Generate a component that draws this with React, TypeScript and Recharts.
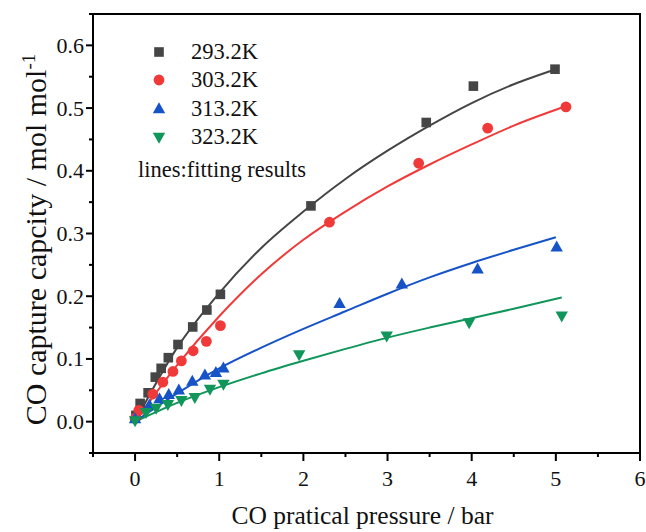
import * as React from 'react';
import { ComposedChart, Scatter, Line, XAxis, YAxis, ReferenceArea, Legend } from 'recharts';

const FONT = '"Liberation Serif", "Times New Roman", serif';

const seriesNames = ['293.2K', '303.2K', '313.2K', '323.2K'];
const seriesColors = ['#454545', '#f03a3a', '#1553c7', '#10955a'];

// measured points
const pts293 = [
  { x: 0.01, y: 0.01 }, { x: 0.06, y: 0.029 }, { x: 0.155, y: 0.046 }, { x: 0.24, y: 0.071 },
  { x: 0.31, y: 0.085 }, { x: 0.395, y: 0.102 }, { x: 0.51, y: 0.123 }, { x: 0.685, y: 0.151 },
  { x: 0.853, y: 0.178 }, { x: 1.014, y: 0.203 }, { x: 2.09, y: 0.344 }, { x: 3.46, y: 0.477 },
  { x: 4.02, y: 0.535 }, { x: 4.99, y: 0.562 },
];
const pts303 = [
  { x: 0.0, y: 0.005 }, { x: 0.044, y: 0.018 }, { x: 0.21, y: 0.044 }, { x: 0.33, y: 0.063 },
  { x: 0.45, y: 0.08 }, { x: 0.55, y: 0.097 }, { x: 0.69, y: 0.113 }, { x: 0.847, y: 0.128 },
  { x: 1.014, y: 0.153 }, { x: 2.31, y: 0.318 }, { x: 3.37, y: 0.412 }, { x: 4.19, y: 0.468 },
  { x: 5.12, y: 0.502 },
];
const pts313 = [
  { x: 0.0, y: 0.004 }, { x: 0.17, y: 0.026 }, { x: 0.29, y: 0.036 }, { x: 0.4, y: 0.043 },
  { x: 0.52, y: 0.05 }, { x: 0.68, y: 0.064 }, { x: 0.83, y: 0.074 }, { x: 0.96, y: 0.078 },
  { x: 1.05, y: 0.085 }, { x: 2.43, y: 0.188 }, { x: 3.17, y: 0.219 }, { x: 4.07, y: 0.243 },
  { x: 5.01, y: 0.278 },
];
const pts323 = [
  { x: 0.0, y: 0.002 }, { x: 0.13, y: 0.015 }, { x: 0.25, y: 0.022 }, { x: 0.39, y: 0.028 },
  { x: 0.55, y: 0.034 }, { x: 0.71, y: 0.039 }, { x: 0.89, y: 0.052 }, { x: 1.05, y: 0.06 },
  { x: 1.95, y: 0.107 }, { x: 2.99, y: 0.137 }, { x: 3.97, y: 0.158 }, { x: 5.07, y: 0.169 },
];

// fitting curves
const fit293 = [
  { x: 0, y: 0 }, { x: 0.5, y: 0.118 }, { x: 1, y: 0.205 }, { x: 1.5, y: 0.277 }, { x: 2, y: 0.335 },
  { x: 2.5, y: 0.387 }, { x: 3, y: 0.432 }, { x: 3.5, y: 0.472 }, { x: 4, y: 0.508 }, { x: 4.5, y: 0.538 },
  { x: 5, y: 0.562 },
];
const fit303 = [
  { x: 0, y: 0 }, { x: 0.5, y: 0.09 }, { x: 1, y: 0.168 }, { x: 1.5, y: 0.235 }, { x: 2, y: 0.29 },
  { x: 2.5, y: 0.335 }, { x: 3, y: 0.375 }, { x: 3.5, y: 0.41 }, { x: 4, y: 0.442 }, { x: 4.5, y: 0.472 },
  { x: 5.1, y: 0.502 },
];
const fit313 = [
  { x: 0, y: 0 }, { x: 0.5, y: 0.045 }, { x: 1, y: 0.085 }, { x: 1.5, y: 0.118 }, { x: 2, y: 0.148 },
  { x: 2.5, y: 0.176 }, { x: 3, y: 0.204 }, { x: 3.5, y: 0.23 }, { x: 4, y: 0.253 }, { x: 4.5, y: 0.274 },
  { x: 5, y: 0.294 },
];
const fit323 = [
  { x: 0, y: 0 }, { x: 0.5, y: 0.03 }, { x: 1, y: 0.055 }, { x: 1.5, y: 0.077 }, { x: 2, y: 0.097 },
  { x: 2.5, y: 0.116 }, { x: 3, y: 0.134 }, { x: 3.5, y: 0.15 }, { x: 4, y: 0.165 }, { x: 4.5, y: 0.18 },
  { x: 5.07, y: 0.198 },
];

const xTicks = [-0.5, 0, 0.5, 1, 1.5, 2, 2.5, 3, 3.5, 4, 4.5, 5, 5.5, 6];
const yTicks = [-0.05, 0, 0.05, 0.1, 0.15, 0.2, 0.25, 0.3, 0.35, 0.4, 0.45, 0.5, 0.55, 0.6, 0.65];
const xMajor = [0, 1, 2, 3, 4, 5, 6];
const yMajor = [0, 0.1, 0.2, 0.3, 0.4, 0.5, 0.6];

const isMajor = (list: number[], v: number) => list.some((m) => Math.abs(m - v) < 1e-9);

type Shape = 'square' | 'circle' | 'up' | 'down';
const shapes: Shape[] = ['square', 'circle', 'up', 'down'];

function Marker({ cx, cy, kind, color }: { cx: number; cy: number; kind: Shape; color: string }) {
  if (kind === 'square') return <rect x={cx - 4.8} y={cy - 4.8} width={9.6} height={9.6} fill={color} />;
  if (kind === 'circle') return <circle cx={cx} cy={cy} r={5.4} fill={color} />;
  if (kind === 'up')
    return <polygon points={`${cx},${cy - 6.8} ${cx + 6.2},${cy + 4.2} ${cx - 6.2},${cy + 4.2}`} fill={color} />;
  return <polygon points={`${cx},${cy + 6.8} ${cx + 6.2},${cy - 4.2} ${cx - 6.2},${cy - 4.2}`} fill={color} />;
}

const makeShape = (i: number) => (p: any) => (
  <Marker cx={p.cx} cy={p.cy} kind={shapes[i]} color={seriesColors[i]} />
);

const XTick = ({ x, y, payload }: any) => {
  const major = isMajor(xMajor, payload.value);
  return (
    <g>
      <line x1={x} x2={x} y1={y} y2={y + (major ? 8 : 4)} stroke="#000" strokeWidth={2} />
      {major && (
        <text x={x} y={y + 33} textAnchor="middle" fontSize={22} fontFamily={FONT} fill="#111">
          {payload.value}
        </text>
      )}
    </g>
  );
};

const YTick = ({ x, y, payload }: any) => {
  const major = isMajor(yMajor, payload.value);
  return (
    <g>
      <line x1={x - (major ? 7 : 4)} x2={x} y1={y} y2={y} stroke="#000" strokeWidth={2} />
      {major && (
        <text x={x - 9} y={y + 7.5} textAnchor="end" fontSize={22} fontFamily={FONT} fill="#111">
          {payload.value.toFixed(1)}
        </text>
      )}
    </g>
  );
};

const LegendBox = () => (
  <div style={{ fontFamily: FONT, color: '#111' }}>
    {seriesNames.map((name, i) => (
      <div key={name} style={{ display: 'flex', alignItems: 'center', height: 28.3, fontSize: 22.5 }}>
        <svg width={53} height={20}>
          <Marker cx={21} cy={10} kind={shapes[i]} color={seriesColors[i]} />
        </svg>
        <span>{name}</span>
      </div>
    ))}
    <div style={{ fontSize: 22.5, marginTop: 5, lineHeight: '28px' }}>lines:fitting results</div>
  </div>
);

export default function App() {
  const fits = [fit293, fit303, fit313, fit323];
  const pts = [pts293, pts303, pts313, pts323];
  return (
    <div style={{ position: 'absolute', left: 0, top: 0, background: '#fff' }}>
      <ComposedChart width={646} height={532} margin={{ top: 14, right: 6, bottom: 0, left: 0 }}>
        <XAxis
          type="number"
          dataKey="x"
          domain={[-0.5, 6]}
          ticks={xTicks}
          interval={0}
          allowDataOverflow
          height={79}
          tickSize={0}
          tickMargin={0}
          tickLine={false}
          axisLine={false}
          tick={XTick}
          label={{
            content: ({ viewBox }: any) => (
              <text
                x={viewBox.x + viewBox.width / 2 - 4}
                y={viewBox.y + 71}
                textAnchor="middle"
                fontSize={25.5}
                fontFamily={FONT}
                fill="#111"
              >
                CO pratical pressure / bar
              </text>
            ),
          }}
        />
        <YAxis
          type="number"
          dataKey="y"
          domain={[-0.05, 0.65]}
          ticks={yTicks}
          interval={0}
          allowDataOverflow
          width={93}
          tickSize={0}
          tickMargin={0}
          tickLine={false}
          axisLine={false}
          tick={YTick}
          label={{
            content: ({ viewBox }: any) => {
              const cx = 46;
              const cy = viewBox.y + viewBox.height / 2 + 6;
              return (
                <text
                  x={cx}
                  y={cy}
                  transform={`rotate(-90 ${cx} ${cy})`}
                  textAnchor="middle"
                  fontSize={30}
                  fontFamily={FONT}
                  fill="#111"
                >
                  <tspan>CO capture capcity / mol mol</tspan>
                  <tspan dy={-11} fontSize={19}>-1</tspan>
                </text>
              );
            },
          }}
        />
        <ReferenceArea x1={-0.5} x2={6} y1={-0.05} y2={0.65} fill="none" stroke="#000" strokeWidth={2} fillOpacity={0} />
        {fits.map((d, i) => (
          <Line
            key={`fit-${i}`}
            data={d}
            dataKey="y"
            type="monotone"
            stroke={seriesColors[i]}
            strokeWidth={2}
            dot={false}
            activeDot={false}
            legendType="none"
            isAnimationActive={false}
          />
        ))}
        {pts.map((d, i) => (
          <Scatter
            key={`pts-${i}`}
            name={seriesNames[i]}
            data={d}
            dataKey="y"
            shape={makeShape(i)}
            isAnimationActive={false}
          />
        ))}
        <Legend
          layout="vertical"
          align="center"
          verticalAlign="middle"
          content={LegendBox}
          wrapperStyle={{ left: 138, top: 38, width: 260, height: 150 }}
        />
      </ComposedChart>
    </div>
  );
}
